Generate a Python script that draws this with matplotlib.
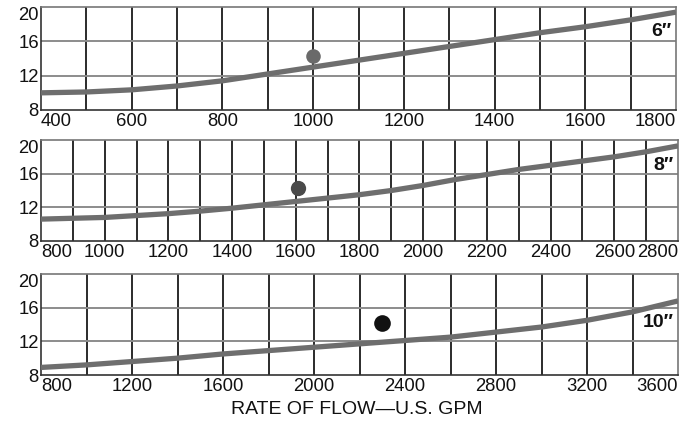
import matplotlib
matplotlib.use("Agg")
import matplotlib.pyplot as plt
import numpy as np

plt.rcParams['font.family'] = ['Liberation Sans', 'DejaVu Sans']

# ---- data ----
y_ticks = [8, 12, 16, 20]

p6_flow = [400, 500, 600, 700, 800, 900, 1000, 1100, 1200, 1300, 1400, 1500, 1600, 1700, 1800]
p6_head = [10.0, 10.1, 10.35, 10.8, 11.4, 12.2, 13.0, 13.8, 14.6, 15.4, 16.2, 17.0, 17.7, 18.5, 19.4]
p6_ticks = [400, 600, 800, 1000, 1200, 1400, 1600, 1800]
p6_point = (1000, 14.3)

p8_flow = [800, 1000, 1200, 1300, 1400, 1500, 1600, 1700, 1800, 1900, 2000, 2100, 2200, 2300, 2400, 2500, 2600, 2700, 2800]
p8_head = [10.6, 10.8, 11.25, 11.55, 11.9, 12.3, 12.7, 13.1, 13.5, 14.0, 14.6, 15.3, 15.9, 16.5, 17.0, 17.5, 18.0, 18.6, 19.3]
p8_ticks = [800, 1000, 1200, 1400, 1600, 1800, 2000, 2200, 2400, 2600, 2800]
p8_point = (1607, 14.3)

p10_flow = [800, 1000, 1200, 1400, 1600, 1800, 2000, 2200, 2400, 2600, 2800, 3000, 3200, 3400, 3600]
p10_head = [8.9, 9.2, 9.6, 10.0, 10.5, 10.9, 11.3, 11.7, 12.1, 12.5, 13.1, 13.7, 14.5, 15.5, 16.8]
p10_ticks = [800, 1200, 1600, 2000, 2400, 2800, 3200, 3600]
p10_point = (2300, 14.2)

labels = ['6\u2033', '8\u2033', '10\u2033']
x_label = 'RATE OF FLOW\u2014U.S. GPM'

panels = [
    dict(flow=p6_flow, head=p6_head, ticks=p6_ticks, step=100, pt=p6_point,
         pcolor='#6a6a6a', ms=10.5, label=labels[0], lab_y=17.2),
    dict(flow=p8_flow, head=p8_head, ticks=p8_ticks, step=100, pt=p8_point,
         pcolor='#4a4a4a', ms=11, label=labels[1], lab_y=17.0),
    dict(flow=p10_flow, head=p10_head, ticks=p10_ticks, step=200, pt=p10_point,
         pcolor='#111111', ms=12, label=labels[2], lab_y=14.2),
]

W, H = 694, 425
fig = plt.figure(figsize=(W / 100, H / 100), dpi=100)

rects = [
    (41 / W, 1 - 110 / H, 635 / W, 103 / H),
    (41 / W, 1 - 241 / H, 637 / W, 101 / H),
    (41 / W, 1 - 375 / H, 637 / W, 101 / H),
]

for rect, p in zip(rects, panels):
    ax = fig.add_axes(rect)
    x0, x1 = p['flow'][0], p['flow'][-1]
    ax.set_xlim(x0, x1)
    ax.set_ylim(8, 20)
    # grid
    for gx in np.arange(x0 + p['step'], x1, p['step']):
        ax.axvline(gx, color='#1a1a1a', lw=1.3, zorder=1)
    for gy in [12, 16]:
        ax.axhline(gy, color='#8c8c8c', lw=1.4, zorder=1)
    for sp in ax.spines.values():
        sp.set_color('#333333')
        sp.set_linewidth(1.2)
    ax.spines['top'].set_color('#777777')
    ax.spines['right'].set_color('#777777')
    # curve
    ax.plot(p['flow'], p['head'], color='#6e6e6e', lw=3.8, solid_capstyle='butt',
            solid_joinstyle='round', zorder=3)
    # point
    ax.plot([p['pt'][0]], [p['pt'][1]], 'o', color=p['pcolor'], ms=p['ms'], mec='none', zorder=4)
    # label
    ax.text(0.993, (p['lab_y'] - 8) / 12, p['label'], transform=ax.transAxes,
            ha='right', va='center', fontsize=14, fontweight='bold', color='#111111', zorder=5)
    # ticks
    ax.set_xticks(p['ticks'])
    ax.set_xticklabels([str(t) for t in p['ticks']])
    ax.set_yticks(y_ticks)
    ax.set_yticklabels([str(t) for t in y_ticks])
    ax.tick_params(axis='both', length=0, labelsize=13.3, colors='#111111')
    ax.tick_params(axis='x', pad=2)
    ax.tick_params(axis='y', pad=1.5)
    xl = ax.get_xticklabels()
    xl[0].set_ha('left')
    xl[-1].set_ha('right')
    yl = ax.get_yticklabels()
    yl[-1].set_va('top')

fig.text(357 / W, 1 - 410 / H, x_label, ha='center', va='center', fontsize=14, color='#111111')

fig.savefig('out.png', dpi=100)
